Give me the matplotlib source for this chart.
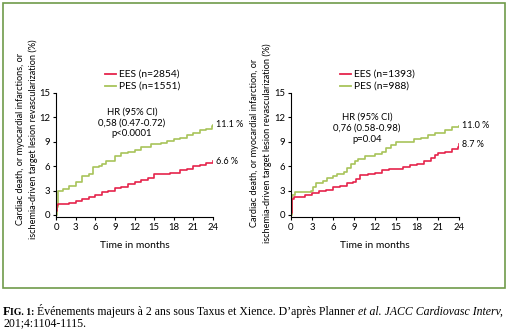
import matplotlib
matplotlib.use("Agg")
import matplotlib.pyplot as plt
from matplotlib.patches import Rectangle

W, H = 509, 336

# months / cumulative event rate (%)
left_pes_t = [0, 0.1, 0.3, 1, 2, 3, 4, 5, 5.6, 6.5, 7, 7.7, 9, 10, 11, 12, 13, 14.5, 16, 17, 18, 19, 20, 21, 22, 23, 23.8, 24]
left_pes_v = [0, 1.0, 3.0, 3.2, 3.6, 4.0, 4.8, 5.0, 5.9, 6.0, 6.3, 6.6, 7.3, 7.6, 7.8, 8.0, 8.3, 8.7, 8.9, 9.1, 9.3, 9.5, 9.8, 10.1, 10.4, 10.6, 10.9, 11.1]
left_ees_t = [0, 0.05, 0.15, 0.3, 2, 3, 4, 5, 6, 7, 8, 9, 10, 11, 12, 13, 14, 15, 17.5, 19, 20, 21, 22, 23, 24]
left_ees_v = [0, 0.5, 1.2, 1.4, 1.5, 1.7, 2.0, 2.2, 2.5, 2.8, 3.0, 3.3, 3.5, 3.8, 4.0, 4.3, 4.6, 5.0, 5.2, 5.5, 5.7, 6.0, 6.2, 6.4, 6.6]

right_pes_t = [0, 0.1, 0.5, 2.8, 3.1, 3.6, 4.5, 5.2, 6, 6.6, 7.5, 8, 8.5, 9.2, 9.6, 10.5, 12, 13, 13.6, 14.3, 15, 17.5, 18.5, 19.5, 20.5, 22, 23, 24]
right_pes_v = [0, 2.5, 2.8, 3.0, 3.5, 3.9, 4.2, 4.5, 4.8, 5.0, 5.3, 5.8, 6.3, 6.6, 6.9, 7.2, 7.5, 7.8, 8.2, 8.6, 9.0, 9.3, 9.5, 9.8, 10.1, 10.5, 10.8, 11.0]
right_ees_t = [0, 0.05, 0.15, 0.4, 2, 3, 4, 5, 6, 7, 8, 8.8, 9.3, 9.8, 11, 12, 13, 14, 16, 17, 18, 19, 20, 20.5, 21, 22, 23, 23.8, 24]
right_ees_v = [0, 0.3, 2.0, 2.2, 2.4, 2.7, 2.9, 3.1, 3.5, 3.6, 3.9, 4.1, 4.4, 4.9, 5.0, 5.2, 5.5, 5.7, 5.9, 6.1, 6.3, 6.6, 7.0, 7.4, 7.6, 7.8, 8.1, 8.4, 8.7]

panels = [
    dict(x0=56, x1=213, ees=(left_ees_t, left_ees_v), pes=(left_pes_t, left_pes_v),
         ees_lab="EES (n=2854)", pes_lab="PES (n=1551)",
         hr=["HR (95% CI)", "0,58 (0.47-0.72)", "p<0.0001"],
         ees_end="6.6 %", pes_end="11.1 %",
         ylab="Cardiac death, or myocardial infarctions, or\nischemia-driven target lesion revascularization (%)",
         ylab_x=27, ylab_y=139, leg_x=105, hr_x=132, hr_y=[112, 123, 134]),
    dict(x0=291, x1=459, ees=(right_ees_t, right_ees_v), pes=(right_pes_t, right_pes_v),
         ees_lab="EES (n=1393)", pes_lab="PES (n=988)",
         hr=["HR (95% CI)", "0,76 (0.58-0.98)", "p=0.04"],
         ees_end="8.7 %", pes_end="11.0 %",
         ylab="Cardiac death, or myocardial infarction, or\nischemia-driven target lesion revascularization (%)",
         ylab_x=261, ylab_y=143, leg_x=340, hr_x=367, hr_y=[117, 128, 139]),
]

red = "#e5244c"
green = "#a8c45a"
sans = "Lato"

fig = plt.figure(figsize=(W / 100, H / 100), dpi=100)

def fx(px):
    return px / W

def fy(py):
    return 1 - py / H

# green frame around the chart area
fig.patches.append(Rectangle((fx(3), fy(288)), fx(502), 285 / H, transform=fig.transFigure,
                             fill=False, edgecolor="#6f9b4a", linewidth=1.2))

y0_px, y15_px = 217, 93
for p in panels:
    ax = fig.add_axes([fx(p["x0"]), fy(y0_px), fx(p["x1"] - p["x0"]), (y0_px - y15_px) / H])
    ax.step(*p["pes"], where="post", color=green, lw=1.2)
    ax.step(*p["ees"], where="post", color=red, lw=1.2)
    ax.set_xlim(0, 24)
    ax.set_ylim(-0.25, 15)
    ax.set_xticks(range(0, 25, 3))
    ax.set_yticks(range(0, 16, 3))
    ax.spines[["top", "right"]].set_visible(False)
    ax.spines["left"].set_bounds(-0.25, 15)
    for s in ("left", "bottom"):
        ax.spines[s].set_linewidth(0.8)
    ax.tick_params(length=2.5, width=0.8, labelsize=6.8, pad=1.5)
    for lab in ax.get_xticklabels() + ax.get_yticklabels():
        lab.set_fontfamily(sans)
    ax.patch.set_alpha(0)

    ax.text(24.4, p["pes"][1][-1], p["pes_end"], fontsize=6.5, family=sans, va="center", ha="left")
    ax.text(24.4, p["ees"][1][-1], p["ees_end"], fontsize=6.5, family=sans, va="center", ha="left")

    # legend drawn by hand above the curves
    for yy, col, lab in ((74, red, p["ees_lab"]), (86, green, p["pes_lab"])):
        fig.add_artist(plt.Line2D([fx(p["leg_x"]), fx(p["leg_x"] + 11)], [fy(yy), fy(yy)],
                                  color=col, lw=1.3, transform=fig.transFigure))
        fig.text(fx(p["leg_x"] + 14), fy(yy), lab, fontsize=7.4, family=sans, va="center")

    for yy, line in zip(p["hr_y"], p["hr"]):
        fig.text(fx(p["hr_x"]), fy(yy), line, fontsize=6.8, family=sans, va="center", ha="center")

    fig.text(fx((p["x0"] + p["x1"]) / 2), fy(245), "Time in months", fontsize=7.4, family=sans,
             va="center", ha="center")
    fig.text(fx(p["ylab_x"]), fy(p["ylab_y"]), p["ylab"], rotation=90, fontsize=6.6, family=sans,
             va="center", ha="center", multialignment="center", linespacing=1.5)

# caption with mixed bold / italic runs
renderer = fig.canvas.get_renderer()

def runs(x_px, y_px, parts):
    x = x_px
    for txt, kw in parts:
        t = fig.text(fx(x), fy(y_px), txt, va="baseline", family="Liberation Serif", **kw)
        x += t.get_window_extent(renderer).width

cap = dict(fontsize=8.5)
runs(3, 315, [
    ("F", dict(fontsize=8.7, weight="bold")),
    ("IG. 1: ", dict(fontsize=7.1, weight="bold")),
    ("Événements majeurs à 2 ans sous Taxus et Xience. D’après Planner ", cap),
    ("et al. JACC Cardiovasc Interv,", dict(fontsize=8.5, style="italic")),
])
runs(3, 326, [("201;4:1104-1115.", cap)])

fig.savefig("out.png", dpi=100)
